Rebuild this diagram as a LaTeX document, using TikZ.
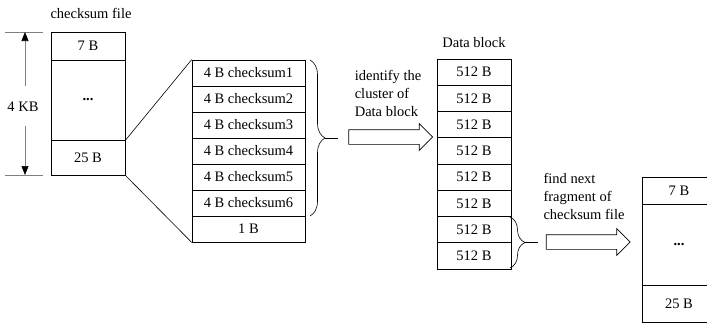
\documentclass[tikz,border=0pt]{standalone}
\usepackage{fontspec}
\setmainfont{Liberation Serif}
\usetikzlibrary{shapes.arrows,decorations.pathreplacing,arrows.meta}

\begin{document}
\begin{tikzpicture}[x=1pt, y=-1pt,
    font=\fontsize{14.5}{18}\selectfont,
    cell/.style={draw, rectangle, inner sep=0pt, line width=0.7pt},
    blockarrow/.style={draw, single arrow, single arrow head extend=6pt,
        inner sep=7pt, minimum height=84pt, line width=0.7pt},
    curly/.style={decorate, decoration={brace, amplitude=15pt}, line width=0.6pt}]
    \useasboundingbox (0,0) rectangle (707,324);
    \clip (0,0) rectangle (707,324);
    % Nodes
    \node (title) at (91,13) {checksum file};
    \node[cell, minimum width=74, minimum height=28] (a7) at (88,46) {7 B};
    \node[cell, minimum width=74, minimum height=80] (adots) at (88,100) {\textbf{...}};
    \node[cell, minimum width=74, minimum height=35] (a25) at (88,157.5) {25 B};
    \node (kb) at (23,107) {4 KB};

    \node[cell, minimum width=113, minimum height=26] (s1) at (248.5,73) {4 B checksum1};
    \node[cell, minimum width=113, minimum height=26] (s2) at (248.5,99) {4 B checksum2};
    \node[cell, minimum width=113, minimum height=26] (s3) at (248.5,125) {4 B checksum3};
    \node[cell, minimum width=113, minimum height=26] (s4) at (248.5,151) {4 B checksum4};
    \node[cell, minimum width=113, minimum height=26] (s5) at (248.5,177) {4 B checksum5};
    \node[cell, minimum width=113, minimum height=26] (s6) at (248.5,203) {4 B checksum6};
    \node[cell, minimum width=113, minimum height=26] (s7) at (248.5,229) {1 B};

    \node[align=left] (identify) at (388,93) {identify the\\cluster of\\Data block};
    \node[blockarrow] (arr1) at (387,137) {};

    \node (dtitle) at (474,43) {Data block};
    \node[cell, minimum width=74, minimum height=26.25] (d1) at (474,72.125) {512 B};
    \node[cell, minimum width=74, minimum height=26.25] (d2) at (474,98.375) {512 B};
    \node[cell, minimum width=74, minimum height=26.25] (d3) at (474,124.625) {512 B};
    \node[cell, minimum width=74, minimum height=26.25] (d4) at (474,150.875) {512 B};
    \node[cell, minimum width=74, minimum height=26.25] (d5) at (474,177.125) {512 B};
    \node[cell, minimum width=74, minimum height=26.25] (d6) at (474,203.375) {512 B};
    \node[cell, minimum width=74, minimum height=26.25] (d7) at (474,229.625) {512 B};
    \node[cell, minimum width=74, minimum height=26.25] (d8) at (474,255.875) {512 B};

    \node[align=left] (findnext) at (584,196) {find next\\fragment of\\checksum file};
    \node[blockarrow] (arr2) at (584.5,242) {};

    \node[cell, minimum width=74, minimum height=27] (b7) at (679,190.5) {7 B};
    \node[cell, minimum width=74, minimum height=81] (bdots) at (679,244.5) {\textbf{...}};
    \node[cell, minimum width=74, minimum height=37] (b25) at (679,303.5) {25 B};

    % Coordinates
    \coordinate (tick1a) at (5,32);
    \coordinate (tick1b) at (43,32);
    \coordinate (tick2a) at (5,175);
    \coordinate (tick2b) at (43,175);
    \coordinate (kbup) at (25,86);
    \coordinate (kbtop) at (25,32);
    \coordinate (kbdown) at (25,126);
    \coordinate (kbbot) at (25,175);
    \coordinate (br1top) at (310,60);
    \coordinate (br1bot) at (310,216);
    \coordinate (br1tip) at (325,138);
    \coordinate (br1end) at (338,138);
    \coordinate (br2top) at (510,217);
    \coordinate (br2bot) at (510,268);
    \coordinate (br2tip) at (525,242.5);
    \coordinate (br2end) at (538,242.5);

    % Edges
    \draw[gray, line width=0.6pt] (tick1a) -- (tick1b);
    \draw[gray, line width=0.6pt] (tick2a) -- (tick2b);
    \draw[gray, line width=0.6pt, -{Triangle[length=9pt, width=7pt, black]}] (kbup) -- (kbtop);
    \draw[gray, line width=0.6pt, -{Triangle[length=9pt, width=7pt, black]}] (kbdown) -- (kbbot);
    \draw[line width=0.6pt] (adots.south east) -- (s1.north west);
    \draw[line width=0.6pt] (a25.south east) -- (s7.south west);
    \draw[curly] (br1top) -- (br1bot);
    \draw[line width=0.6pt] (br1tip) -- (br1end);
    \draw[curly] (br2top) -- (br2bot);
    \draw[line width=0.6pt] (br2tip) -- (br2end);
\end{tikzpicture}
\end{document}
